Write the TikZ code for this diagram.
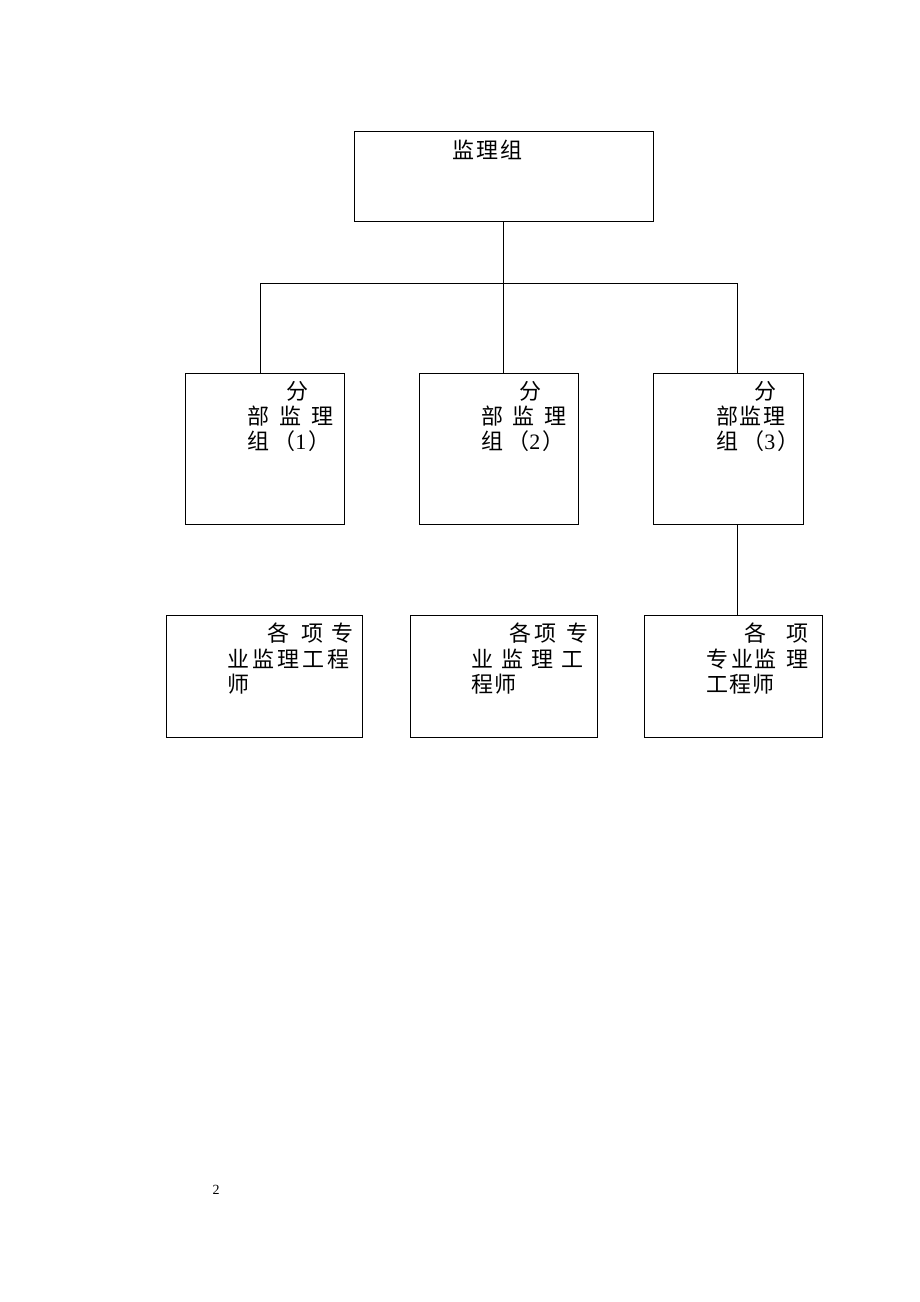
\documentclass[tikz,border=0pt]{standalone}
\usepackage{fontspec}
\setmainfont{Liberation Serif}
\newfontfamily\cjk{Noto Sans CJK SC}
\newlength\mypx
\setlength\mypx{0.75pt}
\newcommand\gp[1]{\hspace{#1\mypx}}
\begin{document}
\begin{tikzpicture}[x=0.75pt,y=-0.75pt,
  box/.style={draw,line width=0.7pt,inner sep=0pt},
  conn/.style={draw,line width=0.7pt},
  txt/.style={anchor=west,inner sep=0pt,font=\cjk\fontsize{16.5pt}{18pt}\selectfont},
  pagenum/.style={inner sep=0pt,font=\fontsize{10.5pt}{12pt}\selectfont}]
\useasboundingbox (0,0) rectangle (920,1302);
% boxes
\node[box,minimum width=224.25pt,minimum height=67.5pt] (top) at (503.5,176) {};
\node[box,minimum width=119.25pt,minimum height=113.25pt] (m1) at (264.5,448.5) {};
\node[box,minimum width=119.25pt,minimum height=113.25pt] (m2) at (498.5,448.5) {};
\node[box,minimum width=112.5pt,minimum height=113.25pt] (m3) at (728,448.5) {};
\node[box,minimum width=147pt,minimum height=91.5pt] (b1) at (264,676) {};
\node[box,minimum width=140.25pt,minimum height=91.5pt] (b2) at (503.5,676) {};
\node[box,minimum width=133.5pt,minimum height=91.5pt] (b3) at (733,676) {};
% connectors
\coordinate (j1) at (260,283);
\coordinate (j2) at (503,283);
\coordinate (j3) at (737,283);
\draw[conn] (top.south -| j2) -- (j2);
\draw[conn] (j1) -- (j3);
\draw[conn] (j1) -- (j1 |- m1.north);
\draw[conn] (j2) -- (j2 |- m2.north);
\draw[conn] (j3) -- (j3 |- m3.north);
\draw[conn] (m3.south -| j3) -- (b3.north -| j3);
% texts
\node[txt] (t0) at (452,150) {监\gp{2}理\gp{2}组};
\node[txt] (t1a) at (286,391) {分};
\node[txt] (t1b) at (247,416) {部\gp{10}监\gp{10}理};
\node[txt] (t1c) at (247,441) {组\gp{4}（\textrm{1}\gp{2}）};
\node[txt] (t2a) at (519,391) {分};
\node[txt] (t2b) at (481,416) {部\gp{9}监\gp{10}理};
\node[txt] (t2c) at (481,441) {组\gp{4}（\textrm{2}\gp{2}）};
\node[txt] (t3a) at (754,391) {分};
\node[txt] (t3b) at (716,416) {部\gp{1}监\gp{2}理};
\node[txt] (t3c) at (716,441) {组\gp{4}（\textrm{3}\gp{2}）};
\node[txt] (t4a) at (267,633) {各\gp{12}项\gp{8}专};
\node[txt] (t4b) at (227,659) {业\gp{3}监\gp{3}理\gp{3}工\gp{3}程};
\node[txt] (t4c) at (227,684) {师};
\node[txt] (t5a) at (509,633) {各\gp{3}项\gp{10}专};
\node[txt] (t5b) at (471,659) {业\gp{8}监\gp{8}理\gp{8}工};
\node[txt] (t5c) at (471,684) {程\gp{1}师};
\node[txt] (t6a) at (744,633) {各\gp{20}项};
\node[txt] (t6b) at (706,659) {专\gp{3}业\gp{1}监\gp{10}理};
\node[txt] (t6c) at (706,684) {工\gp{1}程\gp{1}师};
\node[pagenum] (pg) at (216,1190) {2};
\end{tikzpicture}
\end{document}
